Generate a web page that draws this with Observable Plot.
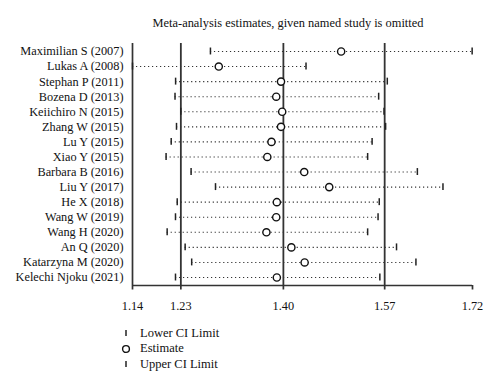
<!DOCTYPE html>
<html><head><meta charset="utf-8">
<script src="https://cdn.jsdelivr.net/npm/d3@7"></script>
<script src="https://cdn.jsdelivr.net/npm/@observablehq/plot@0.6"></script>
<style>
body{margin:0;background:#fff;font-family:"Liberation Serif","DejaVu Serif",serif;color:#111;}
#wrap{position:relative;width:500px;height:388px;overflow:hidden;}
#title{position:absolute;left:76px;width:424px;top:15px;text-align:center;font-size:12.4px;line-height:16px;}
#chart{position:absolute;left:0;top:35px;}
#legend{position:absolute;left:119px;top:325.5px;font-size:12.5px;}
.lg{display:flex;align-items:center;height:15.5px;}
.lg svg{width:14px;height:12px;margin-right:7px;}
</style></head><body>
<div id="wrap">
<div id="title">Meta-analysis estimates, given named study is omitted</div>
<div id="chart"></div>
<div id="legend"></div>
</div>
<script>
const studies = ["Maximilian S (2007)","Lukas A (2008)","Stephan P (2011)","Bozena D (2013)","Keiichiro N (2015)","Zhang W (2015)","Lu Y (2015)","Xiao Y (2015)","Barbara B (2016)","Liu Y (2017)","He X (2018)","Wang W (2019)","Wang H (2020)","An Q (2020)","Katarzyna M (2020)","Kelechi Njoku (2021)"];
const lower    = [1.2775,1.1466,1.219,1.218,1.2277,1.2205,1.2116,1.203,1.245,1.286,1.2217,1.2188,1.2048,1.235,1.246,1.2188];
const estimate = [1.497,1.2915,1.396,1.388,1.398,1.396,1.380,1.373,1.435,1.477,1.389,1.388,1.3715,1.4134,1.4357,1.389];
const upper    = [1.717,1.438,1.5745,1.560,1.569,1.5717,1.549,1.5415,1.625,1.668,1.561,1.559,1.5415,1.590,1.6226,1.562];
const refLines = [1.2278, 1.40, 1.5701];
const tickValues = [1.1466, 1.2278, 1.40, 1.5701, 1.7176];
const tickLabels = ["1.14","1.23","1.40","1.57","1.72"];
const legendLabels = ["Lower CI Limit","Estimate","Upper CI Limit"];

const idx = d3.range(studies.length);
const yTop = -0.53, yBottom = studies.length - 1 + 0.53;
const lineColor = "#333";

const plot = Plot.plot({
  width: 500,
  height: 285,
  marginLeft: 132,
  marginRight: 28,
  marginTop: 8,
  marginBottom: 35,
  x: {domain: [tickValues[0], tickValues[tickValues.length-1]]},
  y: {domain: [yBottom, yTop]},
  style: {fontFamily: '"Liberation Serif","DejaVu Serif",serif', fontSize: "12px", color: "#111", background: "white"},
  marks: [
    Plot.ruleX([tickValues[0]], {stroke: lineColor, strokeWidth: 1.7}),
    Plot.ruleY([yBottom], {stroke: lineColor, strokeWidth: 1.7}),
    Plot.ruleX(refLines, {stroke: lineColor, strokeWidth: 1.8}),
    Plot.ruleY(idx, {y: i => i, x1: i => lower[i], x2: i => upper[i], stroke: "#333", strokeWidth: 1.1, strokeDasharray: "1.2,2.8"}),
    Plot.ruleX(idx, {x: i => lower[i], y1: i => i - 0.23, y2: i => i + 0.23, stroke: "#222", strokeWidth: 1.5}),
    Plot.ruleX(idx, {x: i => upper[i], y1: i => i - 0.23, y2: i => i + 0.23, stroke: "#222", strokeWidth: 1.5}),
    Plot.dot(idx, {x: i => estimate[i], y: i => i, r: 3.6, fill: "white", stroke: "#111", strokeWidth: 1.4}),
    Plot.axisX(tickValues, {tickFormat: d => tickLabels[tickValues.indexOf(d)], tickSize: 4.5, tickPadding: 11, stroke: lineColor, strokeWidth: 1.7, fontSize: 12.3}),
    Plot.axisY(idx, {tickFormat: i => studies[i], tickSize: 0, tickPadding: 9, fontSize: 12.3})
  ]
});
document.getElementById("chart").appendChild(plot);

const lg = document.getElementById("legend");
const markers = [
  '<svg viewBox="0 0 14 12"><line x1="7" y1="3" x2="7" y2="9" stroke="#222" stroke-width="1.5"/></svg>',
  '<svg viewBox="0 0 14 12"><circle cx="7" cy="6" r="3.4" fill="white" stroke="#111" stroke-width="1.4"/></svg>',
  '<svg viewBox="0 0 14 12"><line x1="7" y1="3" x2="7" y2="9" stroke="#222" stroke-width="1.5"/></svg>'
];
legendLabels.forEach((t, k) => {
  const d = document.createElement("div");
  d.className = "lg";
  d.innerHTML = markers[k] + "<span>" + t + "</span>";
  lg.appendChild(d);
});
</script>
</body></html>
